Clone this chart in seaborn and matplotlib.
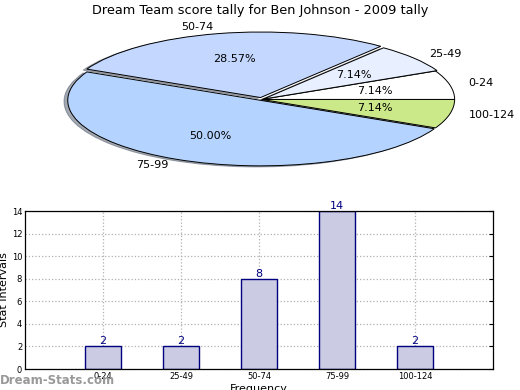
import matplotlib
matplotlib.use("Agg")
import matplotlib.pyplot as plt
import seaborn as sns
import pandas as pd

# ---- data ----
categories = ["0-24", "25-49", "50-74", "75-99", "100-124"]
counts = [2, 2, 8, 14, 2]
pie_colors = ["#ffffff", "#e8f0ff", "#c4d8ff", "#b5d3ff", "#cce98a"]
explode = [0, 0.01, 0.03, 0.015, 0.0]
title = "Dream Team score tally for Ben Johnson - 2009 tally"
yticks = [0, 2, 4, 6, 8, 10, 12, 14]

sns.set_style("white")
plt.rcParams["font.family"] = ["DejaVu Sans"]
plt.rcParams["text.color"] = "black"
plt.rcParams["axes.labelcolor"] = "black"

fig = plt.figure(figsize=(5.2, 3.9), dpi=100)

# ---- pie ----
ax1 = fig.add_axes([0.040, 0.535, 0.927, 0.42])
wedges, texts, autotexts = ax1.pie(
    counts, labels=categories, colors=pie_colors, explode=explode,
    autopct="%.2f%%", pctdistance=0.6, labeldistance=1.1,
    startangle=0, counterclock=True,
    shadow=dict(ox=-0.014, oy=-0.012, shade=0.6),
    wedgeprops=dict(edgecolor="black", linewidth=0.7),
    textprops=dict(fontsize=8, color="black"),
)
ax1.set_aspect("auto")
ax1.set_xlim(-1.25, 1.25)
ax1.set_ylim(-1.25, 1.25)
ax1.axis("off")
fig.text(0.5, 0.974, title, ha="center", va="center", fontsize=9.3,
         color="black")

# ---- bar ----
ax2 = fig.add_axes([0.048, 0.0538, 0.9, 0.405])
df = pd.DataFrame({"cat": categories, "count": counts})
sns.barplot(data=df, x="cat", y="count", ax=ax2, color="#cbcbe3",
            saturation=1, edgecolor="#000080", linewidth=1, width=0.46)
ax2.bar_label(ax2.containers[0], color="#000080", fontsize=8, padding=0)
ax2.set_xlim(-1, 5)
ax2.set_ylim(0, 14)
ax2.set_yticks(yticks)
ax2.grid(True, linestyle=":", color="#b0b0b0", linewidth=0.9)
ax2.set_axisbelow(True)
for s in ax2.spines.values():
    s.set_visible(True)
    s.set_color("black")
    s.set_linewidth(0.9)
ax2.tick_params(direction="in", length=3, labelsize=6, right=True,
                colors="black", pad=2)
ax2.set_ylabel("Stat Intervals", fontsize=8, labelpad=2)
ax2.set_xlabel("Frequency", fontsize=8, labelpad=2)

fig.text(0.0, 0.024, "Dream-Stats.com", fontsize=8.5, color="#999999",
         fontweight="bold", ha="left", va="center")

fig.savefig("out.png", dpi=100)
